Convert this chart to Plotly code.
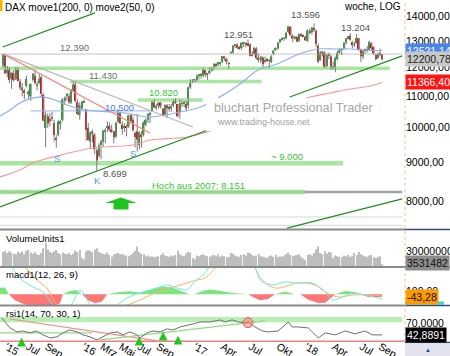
import math
import pandas as pd
import plotly.graph_objects as go

# ---------------- weekly DAX candles (Apr 2015 - Sep 2018) ----------------
opens = [
    11967, 12340, 11700, 11850, 11500, 11700, 11480, 11850, 11400, 11100, 11100, 11250, 11000, 10900, 11450, 11600, 11250, 11350, 11550, 10950,
    9900, 10250, 10150, 10200, 10050, 9600, 9700, 10050, 10150, 10750, 10900, 10900, 10700, 11100, 11300, 10700, 10300, 10500, 10700,
    10480, 9900, 9500, 9750, 9700, 9250, 9100, 9400, 9500, 9800, 9900, 9960, 9850, 9800, 9650, 10100, 10350, 10000, 9900, 9950, 9950, 10300,
    10150, 9750, 9800, 9400, 9700, 9700, 10000, 10150, 10300, 10400, 10700, 10550, 10600, 10700, 10500, 10300, 10600, 10550, 10500, 10600,
    10750, 10650, 10400, 10650, 10650, 10650, 10600, 11200, 11400, 11450,
    11450, 11600, 11600, 11600, 11800, 11650, 11700, 11800, 11850, 12000, 12000, 12050, 12100, 12300, 12200, 12050, 12450, 12450, 12700, 12750,
    12650, 12620, 12800, 12800, 12800, 12750, 12350, 12400, 12600, 12250, 12150, 12250, 12100, 12200, 12150, 12100, 12400, 12550, 12600, 12850,
    12950, 12990, 13000, 13250, 13450, 13100, 13000, 13050, 12900, 13150, 13100, 13050,
    12900, 13300, 13250, 13400, 13300, 12700, 12150, 12400, 12450, 11950, 12350, 12300, 11900, 11900, 12200, 12450, 12550, 12600, 12820, 13000,
    13100, 12850, 12750, 12800, 13000, 12550, 12300, 12550, 12550, 12550, 12800, 12650, 12350, 12250, 12400, 12370,
]
highs = [
    12391, 12390, 11950, 11900, 11750, 11800, 11920, 11900, 11500, 11350, 11150, 11600, 11100, 11330, 11700, 11800, 11400, 11670, 11600, 11000,
    10400, 10350, 10350, 10400, 10150, 9700, 10150, 10150, 10850, 10900, 11000, 11000, 11150, 11400, 11430, 10800, 10700, 10750, 10800,
    10490, 10050, 9800, 9850, 9750, 9300, 9450, 9550, 9830, 9900, 10100, 10070, 10000, 9800, 10100, 10480, 10380, 10100, 10050, 10000, 10300, 10330,
    10250, 9800, 10320, 9800, 9800, 10100, 10200, 10350, 10380, 10750, 10800, 10650, 10700, 10700, 10500, 10630, 10650, 10650, 10650, 10800,
    10830, 10650, 10800, 10760, 10750, 10750, 11210, 11480, 11480, 11490,
    11650, 11650, 11700, 11900, 11800, 11700, 11900, 11900, 12050, 12050, 12100, 12100, 12320, 12300, 12250, 12100, 12500, 12720, 12770, 12800,
    12700, 12830, 12850, 12850, 12951, 12800, 12500, 12650, 12650, 12400, 12300, 12300, 12300, 12250, 12200, 12350, 12550, 12650, 12850, 12960,
    13050, 13050, 13250, 13500, 13500, 13150, 13100, 13100, 13200, 13200, 13150, 13100,
    13350, 13400, 13450, 13596, 13350, 12800, 12500, 12500, 12500, 12400, 12450, 12350, 12100, 12300, 12500, 12600, 12600, 12850, 13010, 13100,
    13204, 12900, 12850, 13170, 13000, 12600, 12550, 12600, 12700, 12900, 12850, 12700, 12400, 12450, 12600, 12395,
]
lows = [
    11890, 11650, 11550, 11350, 11150, 11400, 11450, 11400, 11100, 10900, 10800, 11200, 10800, 10750, 11400, 11300, 11100, 11300, 10850, 10100,
    9340, 9900, 9950, 10100, 9500, 9325, 9650, 9850, 10100, 10650, 10750, 10650, 10650, 11050, 10700, 10300, 10150, 10480, 10700,
    9520, 9530, 9310, 9480, 9150, 8699, 9050, 9000, 9350, 9450, 9770, 9800, 9750, 9450, 9600, 10050, 10020, 9700, 9780, 9650, 9900, 10050,
    9800, 9330, 9214, 9270, 9330, 9650, 9950, 10050, 10050, 10400, 10500, 10450, 10500, 10500, 10260, 10300, 10200, 10400, 10400, 10550,
    10650, 10230, 10180, 10550, 10550, 10400, 10500, 11150, 11350, 11380,
    11400, 11470, 11500, 11550, 11550, 11460, 11650, 11750, 11800, 11900, 11950, 11950, 12050, 12150, 12000, 11850, 12400, 12400, 12620, 12580,
    12550, 12550, 12650, 12650, 12700, 12300, 12300, 12350, 12200, 12080, 12050, 11900, 12050, 12100, 11880, 12050, 12350, 12500, 12550, 12800,
    12900, 12900, 12950, 13200, 13100, 12850, 12950, 12850, 12850, 13050, 13050, 12900,
    12850, 13150, 13150, 13250, 12650, 12050, 12150, 12300, 11867, 11900, 12200, 11800, 11830, 11727, 12150, 12400, 12350, 12550, 12750, 12950,
    12900, 12600, 12650, 12800, 12500, 12100, 12200, 12400, 12450, 12500, 12550, 12350, 12150, 12200, 12300, 12150,
]
closes = [
    12375, 11689, 11811, 11454, 11709, 11447, 11864, 11413, 11197, 11197, 11040, 11492, 11059, 11316, 11673, 11347, 11308, 11490, 10985, 10124,
    10298, 10038, 10123, 10229, 9688, 9553, 10096, 10104, 10795, 10850, 10988, 10708, 11119, 11293, 10752, 10340, 10608, 10727, 10743,
    9849, 9545, 9765, 9798, 9286, 8967, 9388, 9513, 9824, 9831, 9950, 9851, 9794, 9622, 10051, 10373, 10039, 9869, 9952, 9916, 10287, 10103,
    9834, 9631, 9557, 9776, 9630, 10066, 10147, 10337, 10367, 10713, 10544, 10587, 10684, 10573, 10276, 10626, 10511, 10490, 10580, 10711,
    10696, 10259, 10668, 10665, 10700, 10513, 11203, 11404, 11450, 11481,
    11599, 11629, 11630, 11814, 11651, 11666, 11757, 11804, 12027, 11963, 12095, 12064, 12313, 12225, 12110, 12048, 12438, 12717, 12770, 12638,
    12602, 12823, 12816, 12753, 12733, 12325, 12389, 12632, 12240, 12163, 12298, 12014, 12165, 12168, 12142, 12303, 12519, 12592, 12829, 12955,
    12991, 12991, 13217, 13478, 13127, 12993, 13060, 12861, 13153, 13103, 13072, 12918,
    13319, 13245, 13434, 13340, 12785, 12107, 12452, 12483, 11914, 12346, 12390, 11886, 11940, 12241, 12442, 12540, 12580, 12820, 13001, 13077,
    12938, 12724, 12767, 13011, 12580, 12306, 12496, 12541, 12561, 12860, 12615, 12424, 12210, 12394, 12364, 12200.78,
]
volume_mio = [
    24, 26, 22, 25, 23, 21, 20, 24, 22, 25, 20, 26, 27, 23, 21, 24, 20, 19, 22, 30, 38, 28, 24, 22, 25, 27, 22, 20, 23, 21, 20, 22, 19, 21, 26, 24, 27, 14, 12,
    25, 27, 26, 24, 28, 30, 24, 22, 21, 20, 23, 19, 16, 20, 21, 22, 20, 21, 19, 18, 17, 19, 22, 26, 33, 24, 21, 20, 17, 18, 16, 17, 15, 16, 17, 19,
    22, 18, 17, 16, 18, 17, 19, 26, 20, 18, 17, 21, 24, 23, 14, 12,
    18, 17, 19, 20, 18, 17, 16, 18, 19, 17, 20, 16, 18, 17, 15, 16, 22, 21, 18, 17, 16, 19, 20, 18, 23, 22, 19, 17, 18, 20, 17, 16, 15, 14, 17, 18,
    16, 19, 15, 17, 16, 18, 20, 23, 19, 17, 18, 19, 20, 16, 13, 11,
    19, 20, 18, 22, 28, 33, 22, 20, 25, 21, 24, 23, 14, 18, 17, 16, 15, 18, 17, 19, 16, 17, 22, 19, 24, 20, 18, 17, 16, 18, 19, 15, 14, 16, 17, 3.53,
]
weeks = pd.date_range("2015-04-10", periods=len(closes), freq="W-FRI")

# ---------------- moving averages ----------------
ma50_dates = ["2015-03-31", "2015-05-03", "2015-06-04", "2015-07-07", "2015-08-16", "2015-09-28", "2015-11-06", "2015-12-19",
              "2016-02-06", "2016-03-27", "2016-05-15", "2016-07-03", "2016-08-05", "2016-09-23", "2016-11-12", "2017-01-17",
              "2017-03-23", "2017-05-28", "2017-07-26", "2017-09-27", "2017-11-15", "2017-12-28", "2018-02-09", "2018-04-06",
              "2018-05-25", "2018-07-13", "2018-09-07"]
ma50_vals = [10267, 10456, 10680, 10815, 10880, 10778, 10616, 10487, 10423, 10392, 10361, 10267, 10235, 10298, 10392, 10551,
             10880, 11314, 11805, 12022, 12280, 12468, 12582, 12582, 12582, 12544, 12521]
ma200_dates = ["2015-03-31", "2015-06-04", "2015-07-17", "2015-10-04", "2016-01-30", "2016-06-10", "2016-08-05", "2016-12-05",
               "2017-02-28", "2018-01-13", "2018-03-20", "2018-05-25", "2018-07-30", "2018-09-07"]
ma200_vals = [8532, 8714, 8902, 9093, 9317, 9402, 9546, 9633, 9840, 10876, 11010, 11143, 11245, 11366]

# ---------------- MACD (12, 26, 9) ----------------
macd_dates = ["2015-03-31", "2015-05-09", "2015-06-11", "2015-07-17", "2015-08-19", "2015-09-21", "2015-10-21", "2015-11-23",
              "2015-12-19", "2016-01-08", "2016-01-21", "2016-02-23", "2016-03-27", "2016-04-19", "2016-05-21", "2016-07-13",
              "2016-09-07", "2016-09-30", "2016-11-12", "2016-12-05", "2016-12-25", "2017-01-26", "2017-03-07", "2017-05-28",
              "2017-07-16", "2017-08-02", "2017-09-10", "2017-10-23", "2017-11-25", "2018-01-20", "2018-03-04", "2018-03-27",
              "2018-04-22", "2018-06-01", "2018-07-13", "2018-09-07"]
macd_vals = [800, 450, 238, 122, 38, -178, -320, -150, 72, -60, -178, -330, -250, -178, -62, 38, 122, 155, 90, 72, 188, 322, 550, 700,
             450, 238, 155, 205, 188, 188, 38, -95, -62, 22, -12, -78]
signal_dates = ["2015-03-31", "2015-06-21", "2015-07-30", "2015-09-01", "2015-10-04", "2015-11-16", "2016-01-04", "2016-02-23",
                "2016-05-21", "2016-07-03", "2016-08-28", "2016-10-20", "2017-01-07", "2017-02-02", "2017-03-23", "2017-06-14",
                "2017-08-09", "2017-09-20", "2017-12-05", "2018-01-30", "2018-03-04", "2018-04-16", "2018-06-01", "2018-07-23",
                "2018-09-07"]
signal_vals = [850, 450, 238, 105, -178, -300, -220, -250, -178, -95, 38, 122, 238, 272, 500, 650, 238, 105, 188, 155, 38, -45, -12, -12, -28]
hist_dates = ["2015-03-31", "2015-04-16", "2015-04-29", "2015-05-19", "2015-06-21", "2015-07-24", "2015-08-26", "2015-09-21",
              "2015-10-14", "2015-10-24", "2015-11-16", "2015-12-06", "2015-12-25", "2016-01-14", "2016-02-06", "2016-02-29",
              "2016-03-17", "2016-04-28", "2016-05-31", "2016-07-03", "2016-07-26", "2016-08-28", "2016-09-17", "2016-10-20",
              "2016-11-12", "2016-12-15", "2016-12-31", "2017-01-26", "2017-02-18", "2017-03-23", "2017-05-02", "2017-06-23",
              "2017-07-16", "2017-08-02", "2017-08-28", "2017-09-20", "2017-10-23", "2017-11-25", "2017-12-12", "2018-01-07",
              "2018-02-09", "2018-03-04", "2018-04-06", "2018-05-09", "2018-06-10", "2018-06-27", "2018-07-23", "2018-09-07"]
hist_vals = [110, 115, 0, -100, -170, -200, -200, -200, -150, 0, 55, 70, 0, -100, -150, -120, 0, 40, 50, 30, 60, 110, 130, 110,
             60, 0, 5, 60, 80, 60, 20, 0, -60, -100, -80, 0, 45, 0, 0, -90, -145, -140, 0, 55, 40, 0, -45, -43]

# ---------------- RSI (14) ----------------
rsi_dates = ["2015-04-06", "2015-04-16", "2015-05-03", "2015-05-26", "2015-06-14", "2015-07-07", "2015-07-30", "2015-08-19",
             "2015-09-11", "2015-10-04", "2015-10-24", "2015-11-16", "2015-12-09", "2015-12-29", "2016-01-21", "2016-02-13",
             "2016-03-03", "2016-03-27", "2016-04-19", "2016-05-08", "2016-05-31", "2016-06-23", "2016-07-03", "2016-07-26",
             "2016-08-15", "2016-09-07", "2016-09-30", "2016-10-20", "2016-11-12", "2016-12-05", "2016-12-25", "2017-01-17",
             "2017-02-18", "2017-03-23", "2017-04-09", "2017-05-02", "2017-05-22", "2017-06-14", "2017-06-23", "2017-07-16",
             "2017-08-09", "2017-08-28", "2017-09-30", "2017-10-23", "2017-11-02", "2017-11-15", "2017-12-05", "2018-01-07",
             "2018-01-30", "2018-02-09", "2018-03-04", "2018-04-06", "2018-05-09", "2018-06-10", "2018-07-13", "2018-08-05",
             "2018-09-07"]
rsi_vals = [75.5, 67.8, 56.3, 48.6, 50.5, 46.7, 50.5, 42.9, 37.1, 39.0, 46.7, 52.5, 48.6, 42.9, 39.0, 33.3, 39.0, 46.7, 48.6, 42.9,
            48.6, 42.9, 37.1, 46.7, 50.5, 48.6, 54.4, 52.5, 58.2, 62.1, 64.0, 67.8, 67.8, 71.7, 67.8, 71.7, 67.8, 65.9, 67.8, 58.2,
            50.5, 48.6, 50.5, 62.1, 67.8, 58.2, 58.2, 56.3, 42.9, 37.1, 46.7, 42.9, 50.5, 44.8, 50.5, 42.9, 42.89]
rsi_trend_x0 = ["2015-05-03", "2015-03-31", "2016-02-23"]
rsi_trend_y0 = [73.5, 46.6, 33.1]
rsi_trend_x1 = ["2016-08-28", "2016-01-27", "2017-08-18"]
rsi_trend_y1 = [31.2, 46.6, 69.7]
rsi_signal_dates = ["2015-06-10", "2016-06-30", "2016-09-17", "2016-11-05"]
rsi_signal_vals = [37.5, 39.4, 49.1, 41.4]
rsi_mark_date = ["2017-06-23"]
rsi_mark_val = [66.5]

# ---------------- drawn levels, trend lines, labels ----------------
level_prices = [12390, 11870, 11400, 10780, 10430, 8894, 8152, 8152, 7556, 7368]
level_from = ["2015-03-31", "2015-03-31", "2015-11-16", "2016-06-26", "2015-07-10", "2015-03-31", "2015-03-31", "2015-03-31",
              "2015-03-31", "2015-03-31"]
level_to = ["2018-11-12", "2018-10-02", "2017-08-07", "2017-01-25", "2016-08-05", "2018-05-01", "2018-11-12", "2017-12-27",
            "2018-11-12", "2018-11-12"]
trend_x0 = ["2015-04-09", "2015-04-12", "2015-04-12", "2015-03-31", "2017-11-07", "2017-10-29"]
trend_y0 = [12658, 12390, 12390, 7789, 10876, 7308]
trend_x1 = ["2016-02-06", "2016-12-24", "2016-08-05", "2017-02-11", "2018-11-12", "2018-11-12"]
trend_y1 = [14035, 9930, 9750, 9840, 12318, 7981]
label_texts = ["12.390", "11.430", "10.820", "10.500", "12.951", "13.596", "13.204", "8.699", "S", "S", "K", "~ 9.000",
               "Hoch aus 2007: 8.151"]
label_dates = ["2015-12-02", "2016-03-03", "2016-09-17", "2016-04-28", "2017-05-22", "2017-12-28", "2018-06-10", "2016-04-12",
               "2015-10-05", "2016-06-10", "2016-02-13", "2017-10-29", "2017-01-10"]
label_prices = [12621, 11592, 11042, 10551, 13128, 13990, 13448, 8610, 9038, 9176, 8429, 9093, 8302]

price_ticks = [8000, 9000, 10000, 11000, 12000, 13000, 14000]
month_ticks = ["2015-04-22", "2015-07-01", "2015-09-01", "2016-01-01", "2016-03-01", "2016-05-01", "2016-07-01", "2016-09-01",
               "2017-01-01", "2017-04-01", "2017-07-01", "2017-10-01", "2018-01-01", "2018-04-01", "2018-07-01", "2018-09-01"]
month_text = ["'15", "Jul", "Sep", "'16", "Mrz", "Mai", "Jul", "Sep", "'17", "Apr", "Jul", "Okt", "'18", "Apr", "Jul", "Sep"]

last_ma50, last_close, last_ma200 = 12521.14, 12200.78, 11366.40
last_volume, last_macd, last_rsi = 3.531482, -43.28, 42.8891

# ---------------- styling ----------------
FONT = "Liberation Sans, Arial, sans-serif"
X_RANGE = ["2015-03-31", "2018-11-21"]
GREEN_BAND = "#a9e6a2"
level_style = [("#c4c4c4", 1), (GREEN_BAND, 3.5), (GREEN_BAND, 3.5), (GREEN_BAND, 3.5), ("#a9c3f5", 1.2),
               (GREEN_BAND, 4.5), ("#a3a3a3", 2.5), ("rgba(150,225,140,0.8)", 4.5), ("#d6d6d6", 1), ("#d6d6d6", 1)]
trend_colors = ["#1f8f1f", "#b8b8b8", "#f28b82", "#1f8f1f", "#1f8f1f", "#1f8f1f"]
label_colors = ["#6e6e6e", "#6e6e6e", "#33c633", "#4a78e8", "#555555", "#555555", "#555555", "#555555", "#5b8ff0",
                "#5b8ff0", "#5b8ff0", "#33c633", "#33c633"]
PW, PH = 405.0, 342.0


def px(x, y):
    return x / PW, (PH - y) / PH


fig = go.Figure()

# levels
for p, a, b, (c, w) in zip(level_prices, level_from, level_to, level_style):
    fig.add_trace(go.Scatter(x=[a, b], y=[p, p], mode="lines", line=dict(color=c, width=w),
                             xaxis="x", yaxis="y", hoverinfo="skip"))

# candles: wicks + bodies
wx, wy = [], []
for d, h, l in zip(weeks, highs, lows):
    wx += [d, d, None]
    wy += [l, h, None]
fig.add_trace(go.Scatter(x=wx, y=wy, mode="lines", line=dict(color="#7a7a7a", width=1), xaxis="x", yaxis="y",
                         hoverinfo="skip"))
body_base = [min(o, c) for o, c in zip(opens, closes)]
body_size = [max(abs(c - o), 6) for o, c in zip(opens, closes)]
body_col = ["#2b9e2b" if c >= o else "#cf1010" for o, c in zip(opens, closes)]
fig.add_trace(go.Bar(x=weeks, y=body_size, base=body_base, width=5 * 86400000, marker=dict(color=body_col, line=dict(width=0)),
                     xaxis="x", yaxis="y"))

# moving averages
fig.add_trace(go.Scatter(x=ma200_dates, y=ma200_vals, mode="lines", line=dict(color="#f49a9a", width=1.2, shape="spline"),
                         xaxis="x", yaxis="y"))
fig.add_trace(go.Scatter(x=ma50_dates, y=ma50_vals, mode="lines", line=dict(color="#8fb0f2", width=1.2, shape="spline"),
                         xaxis="x", yaxis="y"))

# trend lines
for a, pa, b, pb, c in zip(trend_x0, trend_y0, trend_x1, trend_y1, trend_colors):
    fig.add_trace(go.Scatter(x=[a, b], y=[pa, pb], mode="lines", line=dict(color=c, width=1.3), xaxis="x", yaxis="y"))

# volume
fig.add_trace(go.Bar(x=weeks, y=volume_mio, width=4 * 86400000, marker=dict(color="#bdbdbd", line=dict(width=0)),
                     xaxis="x2", yaxis="y2"))

# MACD
fig.add_trace(go.Scatter(x=hist_dates, y=[max(v, 0) for v in hist_vals], mode="none", fill="tozeroy",
                         fillcolor="#7fe37f", xaxis="x3", yaxis="y3"))
fig.add_trace(go.Scatter(x=hist_dates, y=[min(v, 0) for v in hist_vals], mode="none", fill="tozeroy",
                         fillcolor="#ff7676", xaxis="x3", yaxis="y3"))
fig.add_trace(go.Scatter(x=signal_dates, y=signal_vals, mode="lines", line=dict(color="#ffb25e", width=1, shape="spline"),
                         xaxis="x3", yaxis="y3"))
fig.add_trace(go.Scatter(x=macd_dates, y=macd_vals, mode="lines", line=dict(color="#6ee8f2", width=1, shape="spline"),
                         xaxis="x3", yaxis="y3"))

# RSI
for a, pa, b, pb, c in zip(rsi_trend_x0, rsi_trend_y0, rsi_trend_x1, rsi_trend_y1, ["#f28b82", "#8fdc86", "#8fdc86"]):
    fig.add_trace(go.Scatter(x=[a, b], y=[pa, pb], mode="lines", line=dict(color=c, width=1.2), xaxis="x4", yaxis="y4"))
fig.add_trace(go.Scatter(x=rsi_dates, y=rsi_vals, mode="lines", line=dict(color="#6f6f6f", width=1), xaxis="x4", yaxis="y4"))
fig.add_trace(go.Scatter(x=rsi_mark_date, y=rsi_mark_val, mode="markers",
                         marker=dict(size=10, color="rgba(255,120,120,0.55)", line=dict(color="#e06060", width=1)),
                         xaxis="x4", yaxis="y4"))

shapes = []
# RSI zone band and 30-line
shapes.append(dict(type="rect", xref="x4", yref="y4", x0=X_RANGE[0], x1="2018-11-12", y0=67.2, y1=77.4,
                   fillcolor="#b8efb2", line=dict(width=0), layer="below"))
shapes.append(dict(type="line", xref="paper", yref="y4", x0=0, x1=1, y0=30, y1=30, line=dict(color="#f08080", width=2)))
# panel separators
for yy in (229.5, 267, 305.5):
    shapes.append(dict(type="line", xref="paper", yref="paper", x0=0, x1=1, y0=px(0, yy)[1], y1=px(0, yy)[1],
                       line=dict(color="#8a8a8a", width=2)))
for yy in (229.5, 267, 305.5, 342.5):
    shapes.append(dict(type="line", xref="paper", yref="paper", x0=1, x1=1.12, y0=px(0, yy)[1], y1=px(0, yy)[1],
                       line=dict(color="#3d4a7e", width=1.5)))
# right axis dotted separator
shapes.append(dict(type="line", xref="paper", yref="paper", x0=1, x1=1, y0=0, y1=1,
                   line=dict(color="#e6c98c", width=1, dash="dot")))
# watermark background
x0, y0 = px(206, 98)
x1, y1 = px(376, 131)
shapes.append(dict(type="rect", xref="paper", yref="paper", x0=x0, x1=x1, y0=y1, y1=y0, fillcolor="white",
                   line=dict(width=0), layer="above"))
# big green arrow
pts = [(105, 203), (121, 197.5), (137, 203), (128.5, 203), (128.5, 209.5), (113.5, 209.5), (113.5, 203)]
path = "M " + " L ".join(f"{px(a, b)[0]:.5f},{px(a, b)[1]:.5f}" for a, b in pts) + " Z"
shapes.append(dict(type="path", xref="paper", yref="paper", path=path, fillcolor="#1fc41f", line=dict(width=0)))
# bottom-right control box, top-left marker, MACD cyan tag
shapes.append(dict(type="rect", xref="paper", yref="paper", x0=1, x1=1.12, y0=px(0, 357)[1], y1=px(0, 343.2)[1],
                   fillcolor="#e2e3ef", line=dict(width=0)))
shapes.append(dict(type="rect", xref="paper", yref="paper", x0=0, x1=px(2.5, 0)[0], y0=px(0, 11)[1], y1=1,
                   fillcolor="#ffb000", line=dict(width=0)))
shapes.append(dict(type="rect", xref="paper", yref="paper", x0=1, x1=px(444, 0)[0], y0=px(0, 305)[1], y1=px(0, 301.5)[1],
                   fillcolor="#2fd8ea", line=dict(width=0)))

annotations = []


def note(text, x, y, color="black", size=9.5, xref="paper", yref="paper", xanchor="left", yanchor="middle", **kw):
    annotations.append(dict(text=text, x=x, y=y, xref=xref, yref=yref, xanchor=xanchor, yanchor=yanchor,
                            showarrow=False, font=dict(family=FONT, size=size, color=color), **kw))


for t, d, p, c in zip(label_texts, label_dates, label_prices, label_colors):
    note(t, d, math.log10(p), color=c, size=9.5, xref="x", yref="y", xanchor="center")

x, y = px(3, 7); note("DAX move1(200, 0) move2(50, 0)", x, y, size=10)
x, y = px(403, 6); note("woche, LOG", x, y, size=10, xanchor="right")
x, y = px(4, 238); note("VolumeUnits1", x, y)
x, y = px(4, 274); note("macd1(12, 26, 9)", x, y)
x, y = px(4, 313); note("rsi1(14, 70, 30, 1)", x, y)
x, y = px(212, 108); note("bluchart Professional Trader", x, y, color="#a6a6a6", size=12.7)
x, y = px(215, 122); note("www.trading-house.net", x, y, color="#a0a0a0", size=9)
x, y = px(428, 350); note("▲", x, y, color="#1f3fa0", size=6, xanchor="center")

# value tags on right axis
tag = dict(showarrow=False, xref="paper", x=1, xanchor="left", borderpad=1, font=dict(family=FONT, size=10.5))
annotations.append(dict(tag, text="12521,14", yref="y", y=math.log10(last_ma50), bgcolor="#4a86ea",
                        font=dict(family=FONT, size=10.5, color="white")))
annotations.append(dict(tag, text="12200,78", yref="y", y=math.log10(last_close), bgcolor="#c8c8c8",
                        font=dict(family=FONT, size=10.5, color="#222222")))
annotations.append(dict(tag, text="11366,40", yref="y", y=math.log10(last_ma200), bgcolor="#ff1414",
                        font=dict(family=FONT, size=10.5, color="white")))
annotations.append(dict(tag, text="3531482", yref="y2", y=last_volume + 2.5, bgcolor="#8c8c8c",
                        font=dict(family=FONT, size=10.5, color="#111111")))
annotations.append(dict(tag, text="-43,28", yref="y3", y=last_macd, bgcolor="#ff9a00",
                        font=dict(family=FONT, size=10.5, color="#111111")))
annotations.append(dict(tag, text="42,8891", yref="y4", y=last_rsi, bgcolor="#000000",
                        font=dict(family=FONT, size=10.5, color="white")))
# RSI buy arrows
for d, v in zip(rsi_signal_dates, rsi_signal_vals):
    annotations.append(dict(x=d, y=v, xref="x4", yref="y4", text="", showarrow=True, ax=0, ay=7, arrowhead=2,
                            arrowsize=0.8, arrowwidth=2.2, arrowcolor="#1ec81e"))

xcommon = dict(type="date", range=X_RANGE, showgrid=False, zeroline=False, showline=False, showticklabels=False,
               domain=[0, 1])
ycommon = dict(showgrid=False, zeroline=False, showline=False, side="right", ticks="", ticklabelshift=3,
               tickfont=dict(family=FONT, size=10.5, color="black"))

fig.update_layout(
    width=450, height=356, margin=dict(l=0, r=45, t=0, b=14, autoexpand=False),
    paper_bgcolor="white", plot_bgcolor="white", showlegend=False, barmode="overlay",
    font=dict(family=FONT, size=10, color="black"),
    xaxis=dict(xcommon, anchor="y"),
    xaxis2=dict(xcommon, anchor="y2"),
    xaxis3=dict(xcommon, anchor="y3"),
    xaxis4=dict(xcommon, anchor="y4", showticklabels=True, tickvals=month_ticks, ticktext=month_text, ticks="",
                ticklabelstandoff=-4, tickfont=dict(family=FONT, size=10.5, color="black")),
    yaxis=dict(ycommon, type="log", domain=[113 / 342, 1], anchor="x",
               range=[math.log10(7286), math.log10(14599)],
               tickvals=price_ticks, ticktext=[f"{v},00" for v in price_ticks]),
    yaxis2=dict(ycommon, domain=[75.5 / 342, 112 / 342], anchor="x2", range=[0, 60], tickvals=[30], ticktext=["30000000"]),
    yaxis3=dict(ycommon, domain=[37 / 342, 74 / 342], anchor="x3", range=[-178, 438], tickvals=[100, 0],
                ticktext=["100,00", "0,00"]),
    yaxis4=dict(ycommon, domain=[0, 36 / 342], anchor="x4", range=[29.2, 98.5], tickvals=[70, 40],
                ticktext=["70,0000", "40,0000"]),
    shapes=shapes, annotations=annotations,
)

fig.write_html("out.html", config={"displayModeBar": False},
               post_script="document.body.style.margin='0px';document.body.style.overflow='hidden';")
